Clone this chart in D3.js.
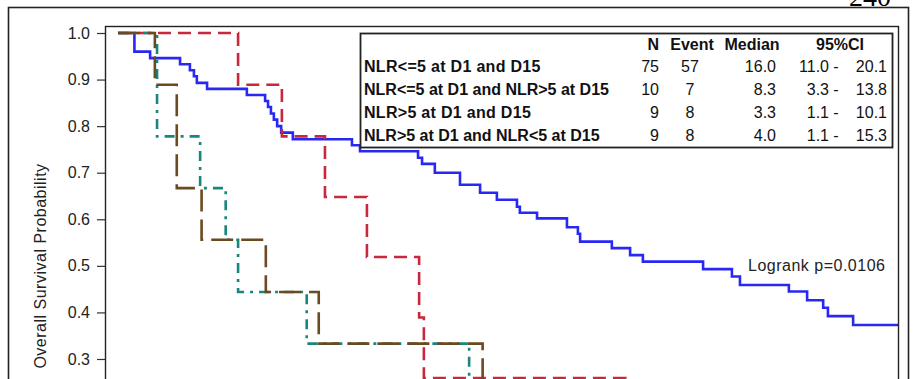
<!DOCTYPE html>
<html>
<head>
<meta charset="utf-8">
<script src="https://cdn.jsdelivr.net/npm/d3@7"></script>
<style>
  body { margin: 0; background: #fff; }
  svg { display: block; font-family: Arial, 'Liberation Sans', sans-serif; }
</style>
</head>
<body>
<svg width="917" height="379"></svg>
<script>
// Table rows (groups) and their statistics:
var groups = ['NLR<=5 at D1 and D15', 'NLR<=5 at D1 and NLR>5 at D15', 'NLR>5 at D1 and D15', 'NLR>5 at D1 and NLR<5 at D15'];
var nValues = [75, 10, 9, 9];
var eventValues = [57, 7, 8, 8];
var medianValues = ['16.0', '8.3', '3.3', '4.0'];
var ciLower = ['11.0', '3.3', '1.1', '1.1'];
var ciUpper = ['20.1', '13.8', '10.1', '15.3'];

// Kaplan-Meier steps, time in months and survival after the drop:
var timesA = [0, 0.45, 0.88, 1.70, 1.97, 2.08, 2.16, 2.44, 3.53, 4.03, 4.11, 4.19, 4.27, 4.36, 4.47, 4.79, 6.41, 6.63, 8.22, 8.33, 8.68, 9.37, 9.92, 10.38, 10.93, 11.01, 11.48, 12.30, 12.60, 12.66, 13.53, 14.03, 14.38, 16.03, 16.82, 17.04, 18.38, 18.88, 19.32, 19.45, 20.14, 21.8];
var survA = [1, 0.960, 0.946, 0.933, 0.920, 0.907, 0.893, 0.880, 0.867, 0.854, 0.841, 0.827, 0.814, 0.800, 0.786, 0.772, 0.759, 0.746, 0.732, 0.719, 0.700, 0.674, 0.657, 0.642, 0.627, 0.614, 0.602, 0.583, 0.569, 0.552, 0.538, 0.523, 0.509, 0.493, 0.477, 0.459, 0.445, 0.426, 0.410, 0.392, 0.373, 0.373];

var timesB = [0, 3.29, 4.49, 5.67, 6.82, 8.25, 8.38, 13.9];
var survB = [1, 0.889, 0.778, 0.648, 0.519, 0.389, 0.259, 0.130];

var timesC = [0, 1.07, 2.25, 2.95, 3.29, 5.17, 9.62];
var survC = [1, 0.778, 0.667, 0.556, 0.444, 0.333, 0.222];

var timesD = [0, 1.01, 1.61, 2.29, 4.05, 5.50, 9.99];
var survD = [1, 0.889, 0.667, 0.556, 0.444, 0.333, 0.222];

// Tick values on the y axis (the lower ones fall below the picture):
var yTicks = [0.3, 0.4, 0.5, 0.6, 0.7, 0.8, 0.9, 1.0];
var pValueLabel = 'Logrank p=0.0106';

// Select the SVG element:
var svg = d3.select('svg');

// Plot area inside the frame:
var plot = { left: 105, top: 26, right: 898, bottom: 520 };

// Define the scales:
var x = d3.scaleLinear().domain([0, 20]).range([118, 848]);
var y = d3.scaleLinear().domain([0, 1]).range([498.7, 33]);

// Page number cut off at the top:
svg.append('text')
  .attr('x', 891)
  .attr('y', 6)
  .attr('text-anchor', 'end')
  .style('font-family', "'Liberation Serif', 'Times New Roman', serif")
  .style('font-size', '28px')
  .text('240');

// Outer frame:
svg.append('rect')
  .attr('x', 8.5)
  .attr('y', 7.5)
  .attr('width', 900)
  .attr('height', 500)
  .attr('fill', 'none')
  .attr('stroke', '#222')
  .attr('stroke-width', 1.6);

// Clip for the curves:
svg.append('clipPath')
  .attr('id', 'clip')
  .append('rect')
  .attr('x', plot.left)
  .attr('y', plot.top)
  .attr('width', plot.right - plot.left)
  .attr('height', plot.bottom - plot.top);

// y axis:
var yAxis = svg.append('g')
  .attr('class', 'axis axis-y')
  .attr('transform', 'translate(' + plot.left + ',0)')
  .call(d3.axisLeft(y).tickValues(yTicks).tickFormat(d3.format('.1f')).tickSize(8).tickPadding(7));

yAxis.select('.domain').remove();
yAxis.selectAll('line').attr('stroke', '#333').attr('stroke-width', 1.2);
yAxis.selectAll('text')
  .attr('fill', '#222')
  .style('font-size', '16px')
  .style('font-family', "Arial, 'Liberation Sans', sans-serif");

// y axis title:
svg.append('text')
  .attr('transform', 'translate(46,266) rotate(-90)')
  .attr('text-anchor', 'middle')
  .attr('fill', '#222')
  .style('font-size', '16px')
  .style('letter-spacing', '0.5px')
  .text('Overall Survival Probability');

// Curves:
var line = d3.line()
  .x(function (d) { return x(d[0]); })
  .y(function (d) { return y(d[1]); })
  .curve(d3.curveStepAfter);

var curves = svg.append('g').attr('clip-path', 'url(#clip)');

function drawCurve(times, surv, color, dash) {
  var pts = d3.zip(times, surv);
  curves.append('path')
    .datum(pts)
    .attr('d', line)
    .attr('fill', 'none')
    .attr('stroke', color)
    .attr('stroke-width', 2.6)
    .attr('stroke-dasharray', dash);
}

drawCurve(timesA, survA, '#2828f2', null);
drawCurve(timesB, survB, '#c8283c', '13,7');
drawCurve(timesC, survC, '#17877d', '10,6,3,6');
drawCurve(timesD, survD, '#6b4a1f', '22,8');

// Plot frame:
svg.append('rect')
  .attr('x', plot.left + 0.5)
  .attr('y', plot.top + 0.5)
  .attr('width', plot.right - plot.left)
  .attr('height', plot.bottom - plot.top)
  .attr('fill', 'none')
  .attr('stroke', '#222')
  .attr('stroke-width', 1.4);

// Log-rank label:
svg.append('text')
  .attr('x', 748)
  .attr('y', 271)
  .attr('fill', '#222')
  .style('font-size', '16px')
  .style('letter-spacing', '0.5px')
  .text(pValueLabel);

// Statistics table:
var table = svg.append('g').attr('class', 'table');

table.append('rect')
  .attr('x', 360.5)
  .attr('y', 33.5)
  .attr('width', 532)
  .attr('height', 114)
  .attr('fill', '#fff')
  .attr('stroke', '#222')
  .attr('stroke-width', 1.8);

var headerY = 50;
var rowY = d3.scaleLinear().domain([0, 1]).range([72, 95]);

function cell(px, py, txt, anchor, bold, spacing) {
  table.append('text')
    .attr('x', px)
    .attr('y', py)
    .attr('text-anchor', anchor)
    .attr('fill', '#111')
    .style('font-size', '16px')
    .style('font-weight', bold ? 'bold' : 'normal')
    .style('letter-spacing', spacing || null)
    .text(txt);
}

cell(659, headerY, 'N', 'end', true);
cell(692, headerY, 'Event', 'middle', true);
cell(752, headerY, 'Median', 'middle', true);
cell(840, headerY, '95%CI', 'middle', true);

groups.forEach(function (g, i) {
  var py = rowY(i);
  cell(364, py, g, 'start', true, i % 2 === 0 ? '0.3px' : null);
  cell(659, py, nValues[i], 'end', false);
  cell(690, py, eventValues[i], 'middle', false);
  cell(776, py, medianValues[i], 'end', false);
  cell(829, py, ciLower[i], 'end', false);
  cell(836, py, '-', 'middle', false);
  cell(887, py, ciUpper[i], 'end', false);
});
</script>
</body>
</html>
